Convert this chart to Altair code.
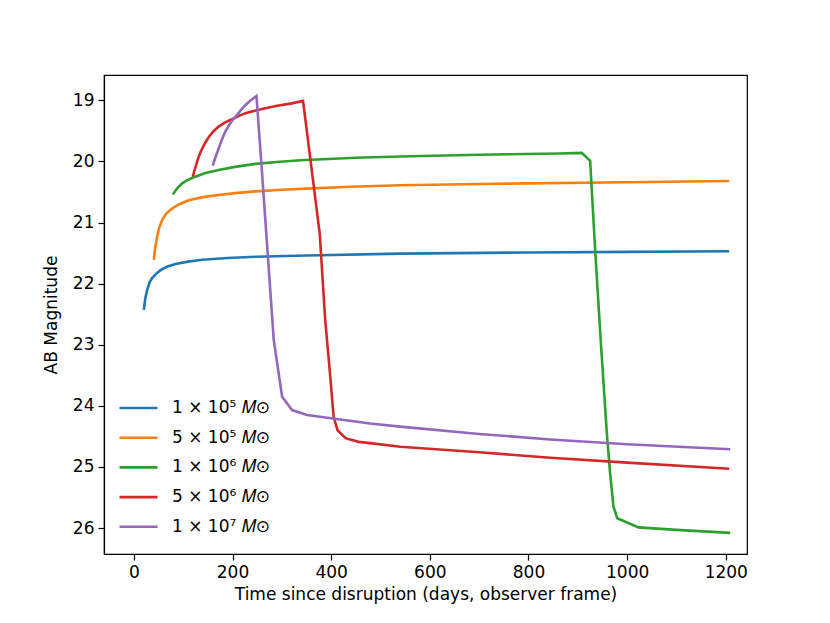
import altair as alt
import pandas as pd

labels = ["1 × 10⁵ 𝑀⊙", "5 × 10⁵ 𝑀⊙", "1 × 10⁶ 𝑀⊙", "5 × 10⁶ 𝑀⊙", "1 × 10⁷ 𝑀⊙"]
colors = ["#1f77b4", "#ff7f0e", "#2ca02c", "#d62728", "#9467bd"]

t_1e5 = [20.3, 23, 27, 32, 37, 45, 54, 68, 84.5, 110, 138.5, 190, 246.5, 350, 540, 800, 1000, 1207]
m_1e5 = [22.43, 22.25, 22.10, 21.98, 21.91, 21.84, 21.78, 21.72, 21.68, 21.64, 21.61, 21.58, 21.56, 21.54, 21.51, 21.49, 21.48, 21.47]

t_5e5 = [40.5, 43.5, 47.3, 52, 57.4, 66, 77.8, 92, 111.4, 140, 172, 210, 246.5, 300, 350, 440, 540, 700, 800, 1000, 1207]
m_5e5 = [21.61, 21.40, 21.23, 21.07, 20.96, 20.85, 20.77, 20.70, 20.635, 20.585, 20.55, 20.515, 20.49, 20.465, 20.445, 20.415, 20.39, 20.37, 20.36, 20.34, 20.32]

t_1e6 = [79, 88, 98, 110, 121.5, 145, 172, 205, 246.5, 290, 337.6, 450, 540, 700, 864, 908, 925, 935.2, 947, 958.9, 965.5, 972.3, 980, 1023, 1100, 1209]
m_1e6 = [20.54, 20.44, 20.36, 20.30, 20.26, 20.19, 20.14, 20.09, 20.04, 20.01, 19.98, 19.94, 19.92, 19.89, 19.87, 19.86, 19.99, 21.45, 23.0, 24.45, 25.10, 25.65, 25.84, 25.99, 26.03, 26.08]

t_5e6 = [119.5, 124, 128.4, 133, 138.5, 145, 152, 161, 172, 185, 199, 212, 226, 245, 266.8, 290.5, 320, 343, 376.8, 388, 398.7, 405, 413, 429, 455.7, 479, 540, 700, 844, 1000, 1207]
m_5e6 = [20.25, 20.12, 20.00, 19.89, 19.79, 19.69, 19.60, 19.51, 19.43, 19.36, 19.31, 19.26, 19.21, 19.17, 19.13, 19.09, 19.05, 19.01, 21.18, 22.60, 23.57, 24.18, 24.40, 24.53, 24.59, 24.61, 24.67, 24.76, 24.85, 24.93, 25.03]

t_1e7 = [160, 166, 172, 178.5, 185.7, 195, 206, 216, 226, 237, 248.6, 260, 283.6, 300.6, 320.8, 351, 479, 540, 700, 844, 1000, 1209]
m_1e7 = [20.07, 19.92, 19.79, 19.64, 19.51, 19.38, 19.27, 19.17, 19.08, 19.00, 18.93, 20.20, 22.92, 23.85, 24.07, 24.15, 24.29, 24.34, 24.46, 24.55, 24.63, 24.71]

series = [(labels[0], t_1e5, m_1e5), (labels[1], t_5e5, m_5e5), (labels[2], t_1e6, m_1e6),
          (labels[3], t_5e6, m_5e6), (labels[4], t_1e7, m_1e7)]

rows = []
for name, ts, ms in series:
    for i, (t, m) in enumerate(zip(ts, ms)):
        rows.append({"series": name, "t": t, "mag": m, "i": i})
df = pd.DataFrame(rows)

FONT = "DejaVu Sans"

chart = alt.Chart(df).mark_line(strokeWidth=2.6, clip=True).encode(
    x=alt.X("t:Q", title="Time since disruption (days, observer frame)",
            scale=alt.Scale(domain=[-60.5, 1243], nice=False, zero=False),
            axis=alt.Axis(values=[0, 200, 400, 600, 800, 1000, 1200], format="d")),
    y=alt.Y("mag:Q", title="AB Magnitude",
            scale=alt.Scale(domain=[18.586, 26.425], nice=False, zero=False, reverse=True),
            axis=alt.Axis(values=[19, 20, 21, 22, 23, 24, 25, 26], format="d")),
    color=alt.Color("series:N", sort=labels,
                    scale=alt.Scale(domain=labels, range=colors),
                    legend=alt.Legend(title=None, orient="none", legendX=14, legendY=324,
                                      symbolType="stroke", symbolSize=1444,
                                      symbolStrokeWidth=2.6, labelFontSize=17,
                                      labelFont=FONT, labelColor="black",
                                      clipHeight=18, rowPadding=11.7, labelOffset=13,
                                      padding=0)),
    order="i:Q",
).properties(
    width=643, height=479,
    autosize=alt.AutoSizeParams(type="none"),
    padding={"left": 96, "top": 67, "right": 75, "bottom": 61},
).configure_view(
    stroke="black", strokeWidth=1.2
).configure_axis(
    grid=False, domainColor="black", domainWidth=1.2, tickColor="black", tickWidth=1.2,
    tickSize=6, labelFont=FONT, labelFontSize=17, labelColor="black",
    titleFont=FONT, titleFontSize=17, titleFontWeight="normal", titleColor="black",
    labelPadding=4,
).configure_axisY(titlePadding=12).configure_axisX(titlePadding=6)

chart.save("out.html", embed_options={"renderer": "svg", "actions": False})
